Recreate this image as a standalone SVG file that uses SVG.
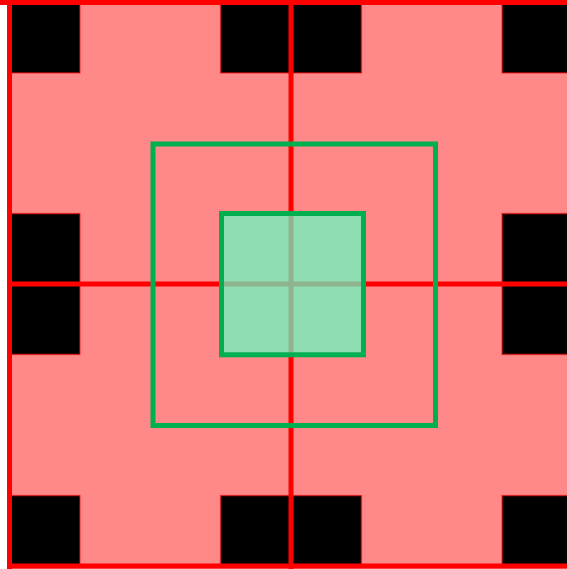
<svg xmlns="http://www.w3.org/2000/svg" width="567" height="569" viewBox="0 0 567 569">
<style>
.cell{fill:#ff8888;stroke:none}
.blk{fill:#000;stroke:#ff0000;stroke-opacity:0.55;stroke-width:1.5}
.grid{stroke:#ff0000;stroke-width:5;fill:none}
.g{fill:none;stroke:#00b050;stroke-width:5}
.gfill{fill:#8fddb2;stroke:none}
.tint{stroke:#8fb38f;stroke-width:5}
</style>
<rect width="567" height="569" fill="#fff"/>
<g id="cells">
<rect class="cell" x="9.5" y="2.5" width="563" height="566.5"/>
</g>
<g id="squares">
<rect class="blk" x="9.5" y="2.5" width="70.4" height="70.4"/>
<rect class="blk" x="220.6" y="2.5" width="70.4" height="70.4"/>
<rect class="blk" x="291" y="2.5" width="70.4" height="70.4"/>
<rect class="blk" x="502.1" y="2.5" width="70.4" height="70.4"/>
<rect class="blk" x="9.5" y="213.6" width="70.4" height="70.4"/>
<rect class="blk" x="220.6" y="213.6" width="70.4" height="70.4"/>
<rect class="blk" x="291" y="213.6" width="70.4" height="70.4"/>
<rect class="blk" x="502.1" y="213.6" width="70.4" height="70.4"/>
<rect class="blk" x="9.5" y="284" width="70.4" height="70.4"/>
<rect class="blk" x="220.6" y="284" width="70.4" height="70.4"/>
<rect class="blk" x="291" y="284" width="70.4" height="70.4"/>
<rect class="blk" x="502.1" y="284" width="70.4" height="70.4"/>
<rect class="blk" x="9.5" y="495.6" width="70.4" height="70.4"/>
<rect class="blk" x="220.6" y="495.6" width="70.4" height="70.4"/>
<rect class="blk" x="291" y="495.6" width="70.4" height="70.4"/>
<rect class="blk" x="502.1" y="495.6" width="70.4" height="70.4"/>
</g>
<g id="grid" class="grid">
<line x1="9.5" y1="0" x2="9.5" y2="569"/>
<line x1="291" y1="0" x2="291" y2="569"/>
<line x1="0" y1="2.5" x2="567" y2="2.5"/>
<line x1="9.5" y1="284" x2="567" y2="284"/>
<line x1="9.5" y1="566" x2="567" y2="566"/>
</g>
<g id="outer-window">
<rect class="g" x="153" y="144" width="282.5" height="281.5"/>
</g>
<g id="inner-window">
<rect class="gfill" x="221.5" y="213.5" width="142" height="141.3"/>
<line class="tint" x1="291" y1="213.5" x2="291" y2="354.8"/>
<line class="tint" x1="221.5" y1="284" x2="363.5" y2="284"/>
<rect class="g" x="221.5" y="213.5" width="142" height="141.3"/>
</g>
</svg>
